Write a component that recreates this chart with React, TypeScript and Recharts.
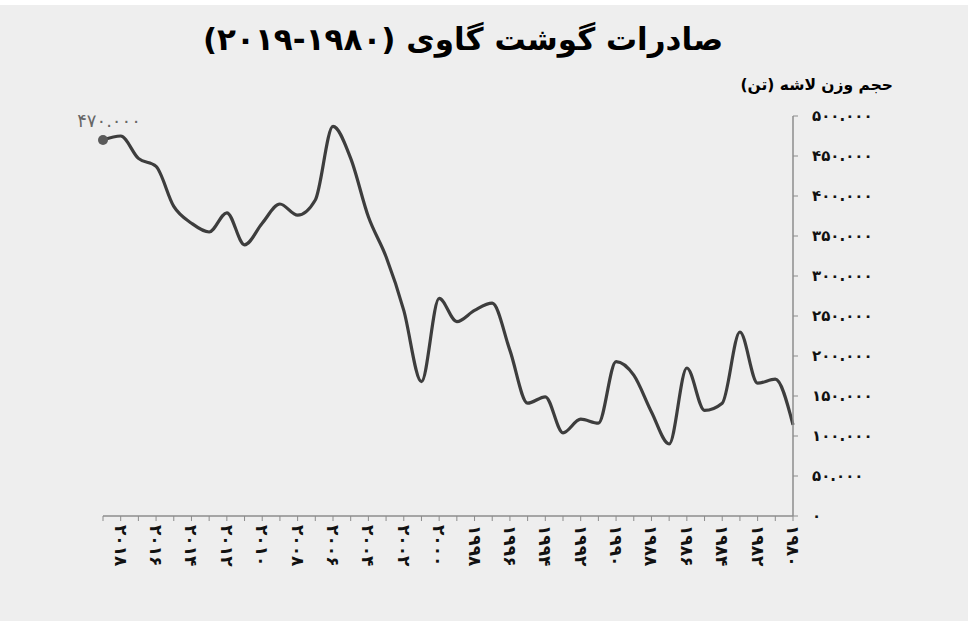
import { LineChart, Line, XAxis, YAxis } from 'recharts';

// beef exports, carcass weight (tonnes), 1980..2019
const years = [
  1980, 1981, 1982, 1983, 1984, 1985, 1986, 1987, 1988, 1989,
  1990, 1991, 1992, 1993, 1994, 1995, 1996, 1997, 1998, 1999,
  2000, 2001, 2002, 2003, 2004, 2005, 2006, 2007, 2008, 2009,
  2010, 2011, 2012, 2013, 2014, 2015, 2016, 2017, 2018, 2019,
];
const tonnes = [
  114000, 171000, 166000, 230000, 141000, 132000, 185000, 90000, 130000, 176000,
  193000, 116000, 121000, 104000, 149000, 141000, 207000, 266000, 257000, 243000,
  272000, 168000, 257000, 324000, 374000, 447000, 487000, 395000, 376000, 390000,
  366000, 339000, 379000, 355000, 366000, 387000, 437000, 447000, 475000, 470000,
];
const yTicks = [0, 50000, 100000, 150000, 200000, 250000, 300000, 350000, 400000, 450000, 500000];
const labelYears = [
  1980, 1982, 1984, 1986, 1988, 1990, 1992, 1994, 1996, 1998,
  2000, 2002, 2004, 2006, 2008, 2010, 2012, 2014, 2016, 2018,
];
const labelledYear = 2019;

const title = 'صادرات گوشت گاوی (۱۹۸۰-۲۰۱۹)';
const yTitle = 'حجم وزن لاشه (تن)';

const data = years.map((y, i) => ({ year: y, value: tonnes[i] }));

const FONT = '"DejaVu Sans", sans-serif';
const faDigits = '۰۱۲۳۴۵۶۷۸۹';
const toFa = (s: string) => s.replace(/[0-9]/g, d => faDigits[+d]);
const fmt = (v: number) => toFa(v.toLocaleString('en-US').replace(/,/g, '.'));

function YearTick(props: any) {
  const { x, y, payload } = props;
  if (!labelYears.includes(payload.value)) return null;
  return (
    <text
      x={x}
      y={y}
      transform={`rotate(90 ${x} ${y})`}
      dx={2}
      textAnchor="start"
      dominantBaseline="central"
      fontFamily={FONT}
      fontWeight="bold"
      fontSize={17}
      fill="#111"
    >
      {toFa(String(payload.value))}
    </text>
  );
}

function EndDot(props: any) {
  const { cx, cy, payload } = props;
  if (payload.year !== labelledYear) return <g key={payload.year} />;
  return (
    <g key={payload.year}>
      <circle cx={cx} cy={cy} r={5} fill="#5a5a5a" />
      <text x={cx + 6} y={cy - 13} textAnchor="middle" fontFamily={FONT} fontSize={18} fill="#666">
        {fmt(payload.value)}
      </text>
    </g>
  );
}

export default function App() {
  return (
    <div style={{ position: 'absolute', left: 0, top: 0, width: 969, height: 636, background: '#fff' }}>
      <div style={{ position: 'absolute', left: 0, top: 5, width: 968, height: 616, background: '#eeeeee' }} />
      <div
        style={{
          position: 'absolute', left: 163, top: 21, width: 600, textAlign: 'center',
          fontFamily: FONT, fontWeight: 'bold', fontSize: 31, color: '#000', direction: 'rtl',
          whiteSpace: 'nowrap',
        }}
      >
        {title}
      </div>
      <div
        style={{
          position: 'absolute', right: 76, top: 76, fontFamily: FONT, fontWeight: 'bold',
          fontSize: 15.5, color: '#000', direction: 'rtl', whiteSpace: 'nowrap',
        }}
      >
        {yTitle}
      </div>
      <div style={{ position: 'absolute', left: 0, top: 0 }}>
        <LineChart width={969} height={621} data={data} margin={{ top: 116, right: 106, bottom: 55, left: 103 }}>
          <XAxis
            dataKey="year"
            type="number"
            domain={[1980, 2019]}
            ticks={years}
            reversed
            interval={0}
            height={50}
            tick={<YearTick />}
            tickSize={5}
            axisLine={{ stroke: '#8c8c8c', strokeWidth: 1.5 }}
            tickLine={{ stroke: '#8c8c8c' }}
          />
          <YAxis
            orientation="right"
            domain={[0, 500000]}
            ticks={yTicks}
            width={70}
            tickSize={5}
            tickMargin={14}
            tickFormatter={fmt}
            axisLine={{ stroke: '#8c8c8c', strokeWidth: 1.5 }}
            tickLine={{ stroke: '#8c8c8c' }}
            tick={{ fontFamily: FONT, fontWeight: 'bold', fontSize: 15, fill: '#111', textAnchor: 'start' }}
          />
          <Line
            type="monotone"
            dataKey="value"
            stroke="#3d3d3d"
            strokeWidth={3.2}
            dot={<EndDot />}
            activeDot={false}
            isAnimationActive={false}
          />
        </LineChart>
      </div>
    </div>
  );
}
